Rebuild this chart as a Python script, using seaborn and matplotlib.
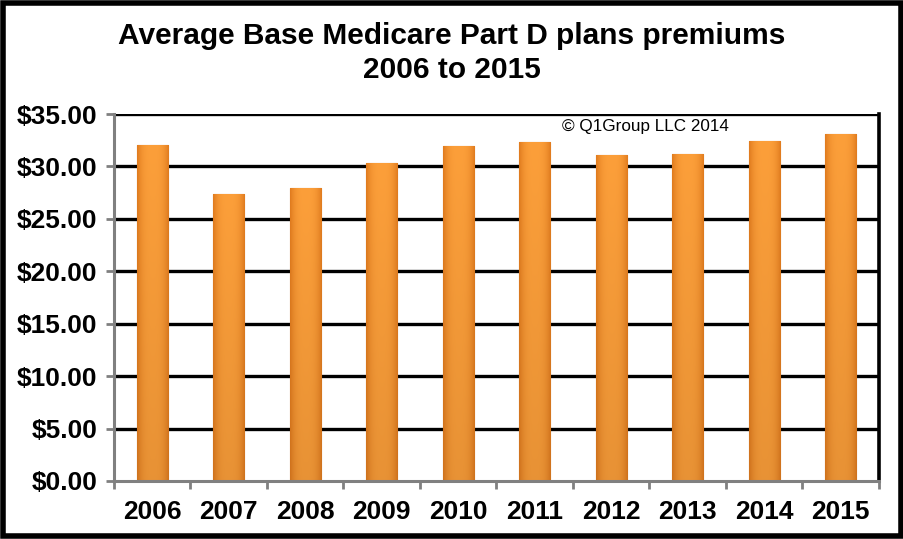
import matplotlib
matplotlib.use("Agg")
import matplotlib.pyplot as plt
import seaborn as sns
import pandas as pd
import numpy as np
from matplotlib.patches import Rectangle
from matplotlib.ticker import FixedLocator
from matplotlib.colors import to_rgb

years = ["2006", "2007", "2008", "2009", "2010", "2011", "2012", "2013", "2014", "2015"]
premiums = [32.00, 27.39, 27.93, 30.36, 31.94, 32.34, 31.08, 31.17, 32.42, 33.13]
yticks = [0, 5, 10, 15, 20, 25, 30, 35]
title = "Average Base Medicare Part D plans premiums\n2006 to 2015"
note = "\u00a9 Q1Group LLC 2014"

sns.set_theme(style="white")
plt.rcParams['font.family'] = ['Liberation Sans', 'DejaVu Sans']
plt.rcParams['text.color'] = 'black'

df = pd.DataFrame({"year": years, "premium": premiums})

fig = plt.figure(figsize=(9.04, 5.39), dpi=100)
ax = fig.add_axes([114/904, 1-481/539, (879-114)/904, (481-114)/539])

for v in yticks[1:]:
    ax.axhline(v, color="black", lw=2.4, zorder=0)

sns.barplot(data=df, x="year", y="premium", color="#F7952E", saturation=1,
            width=0.41, edgecolor="#B8651C", linewidth=0.8, ax=ax, zorder=2)

# subtle shading inside each bar (clipped to the bar drawn by seaborn)
c_mid = np.array(to_rgb("#FC9F3A"))
c_edge = np.array(to_rgb("#E07B1E"))
xs = np.linspace(-1, 1, 64)
w = np.abs(xs) ** 3
row = c_mid[None, :] * (1 - w[:, None]) + c_edge[None, :] * w[:, None]
ys = np.linspace(0, 1, 64)
dark = 0.92 + 0.08 * ys  # darker near bottom
grad = np.clip(row[None, :, :] * dark[:, None, None], 0, 1)
for p in ax.patches:
    x0, y0 = p.get_x(), p.get_y()
    im = ax.imshow(grad, extent=[x0, x0 + p.get_width(), y0, y0 + p.get_height()],
                   origin="lower", aspect="auto", zorder=2.5, interpolation="bilinear")
    im.set_clip_path(p)

ax.set_ylim(0, 35)
ax.set_xlim(-0.5, 9.5)
ax.set_yticks(yticks)
ax.set_yticklabels([f"${v:.2f}" for v in yticks])
ax.set_xlabel("")
ax.set_ylabel("")
ax.xaxis.set_minor_locator(FixedLocator([i - 0.5 for i in range(11)]))
ax.tick_params(axis="x", which="major", length=0, pad=14, labelsize=19)
ax.tick_params(axis="x", which="minor", length=6, width=2, color="#808080", direction="out", bottom=True)
ax.tick_params(axis="y", length=6, width=2, color="#808080", direction="out", left=True, pad=6, labelsize=19)
for lab in ax.get_xticklabels() + ax.get_yticklabels():
    lab.set_fontweight("bold")
    lab.set_color("black")

for s in ["left", "bottom"]:
    ax.spines[s].set_color("#808080")
    ax.spines[s].set_linewidth(2.2)
ax.spines["right"].set_color("black")
ax.spines["right"].set_linewidth(2.6)
ax.spines["top"].set_visible(False)

ax.text(0.585, 0.965, note, transform=ax.transAxes, fontsize=12.3, ha="left", va="center", color="black")

fig.text(0.5, 1 - 53/539, title, ha="center", va="center", fontsize=21.5,
         fontweight="bold", linespacing=1.25, color="black")

fig.patches.append(Rectangle((0.003, 0.005), 0.994, 0.99, transform=fig.transFigure,
                             fill=False, edgecolor="black", linewidth=4))

fig.savefig("out.png", dpi=100)
